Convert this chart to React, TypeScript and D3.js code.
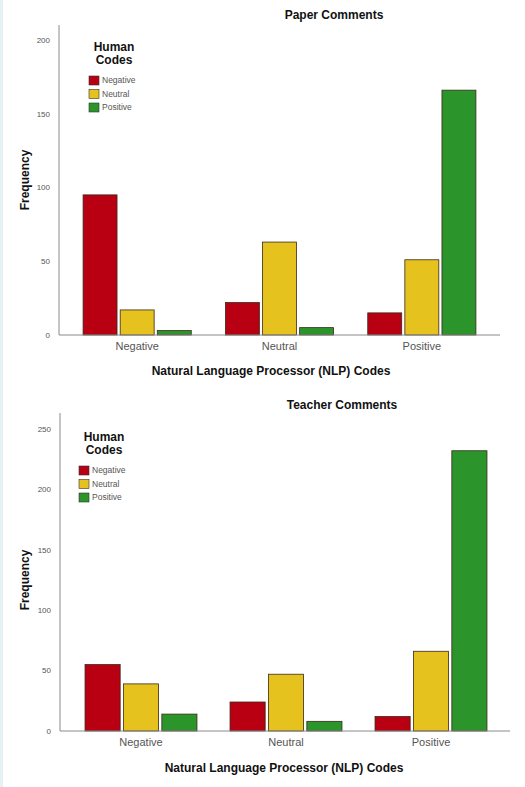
import React from "react";
import * as d3 from "d3";

const nlpCategories = ["Negative", "Neutral", "Positive"];
const humanCodes = ["Negative", "Neutral", "Positive"];
const codeColors = ["#B80012", "#E6C21E", "#2B952B"];

// values per NLP category, one array per human code
const paperNegative = [95, 22, 15];
const paperNeutral = [17, 63, 51];
const paperPositive = [3, 5, 166];
const paperTicks = [0, 50, 100, 150, 200];

const teacherNegative = [55, 24, 12];
const teacherNeutral = [39, 47, 66];
const teacherPositive = [14, 8, 232];
const teacherTicks = [0, 50, 100, 150, 200, 250];

const FONT = "'Liberation Sans', Arial, sans-serif";

type ChartProps = {
  title: string;
  series: number[][];
  ticks: number[];
  axisX: number;
  axisTop: number;
  baseY: number;
  topY: number;
  bandRange: [number, number];
  bandPad: number;
  baseEnd: number;
  titleX: number;
  titleY: number;
  legendX: number;
  legendY: number;
  xLabelX: number;
  xLabelY: number;
  yLabelY: number;
};

function Chart(p: ChartProps) {
  const yMax = p.ticks[p.ticks.length - 1];
  const y = d3.scaleLinear().domain([0, yMax]).range([p.baseY, p.topY]);
  const x0 = d3.scaleBand().domain(nlpCategories).range(p.bandRange).paddingInner(p.bandPad).paddingOuter(p.bandPad / 2);
  const x1 = d3.scaleBand().domain(humanCodes).range([0, x0.bandwidth()]).paddingInner(0.085);
  return (
    <g>
      <text x={p.titleX} y={p.titleY} textAnchor="middle" fontFamily={FONT} fontWeight="bold" fontSize={12} fill="#111">
        {p.title}
      </text>
      {/* y axis */}
      <line x1={p.axisX} x2={p.axisX} y1={p.axisTop} y2={p.baseY} stroke="#8a8a8a" strokeWidth={1} />
      {p.ticks.map((t) => (
        <text key={t} x={p.axisX - 9} y={y(t)} dy="0.35em" textAnchor="end" fontFamily={FONT} fontSize={8} fill="#555">
          {t}
        </text>
      ))}
      {/* bars */}
      {nlpCategories.map((c, ci) => (
        <g key={c} transform={`translate(${x0(c)},0)`}>
          {humanCodes.map((h, hi) => {
            const v = p.series[hi][ci];
            return (
              <rect
                key={h}
                x={x1(h)}
                y={y(v)}
                width={x1.bandwidth()}
                height={p.baseY - y(v)}
                fill={codeColors[hi]}
                stroke="#3a2a1a"
                strokeWidth={0.8}
              />
            );
          })}
        </g>
      ))}
      {/* x axis */}
      <line x1={p.axisX} x2={p.baseEnd} y1={p.baseY} y2={p.baseY} stroke="#8a8a8a" strokeWidth={1} />
      {nlpCategories.map((c) => (
        <text key={c} x={(x0(c) as number) + x0.bandwidth() / 2} y={p.baseY + 15} textAnchor="middle" fontFamily={FONT} fontSize={11} fill="#555">
          {c}
        </text>
      ))}
      <text x={p.xLabelX} y={p.xLabelY} textAnchor="middle" fontFamily={FONT} fontWeight="bold" fontSize={12} fill="#111">
        Natural Language Processor (NLP) Codes
      </text>
      <text transform={`translate(29,${p.yLabelY}) rotate(-90)`} textAnchor="middle" fontFamily={FONT} fontWeight="bold" fontSize={12} fill="#111">
        Frequency
      </text>
      {/* legend */}
      <g transform={`translate(${p.legendX},${p.legendY})`}>
        <text x={25} y={0} textAnchor="middle" fontFamily={FONT} fontWeight="bold" fontSize={12} fill="#111">Human</text>
        <text x={25} y={13} textAnchor="middle" fontFamily={FONT} fontWeight="bold" fontSize={12} fill="#111">Codes</text>
        {humanCodes.map((h, i) => (
          <g key={h} transform={`translate(0,${25 + i * 13.5})`}>
            <rect x={0} y={0} width={10} height={9} fill={codeColors[i]} stroke="#333" strokeWidth={0.6} />
            <text x={13} y={4.5} dy="0.35em" fontFamily={FONT} fontSize={8.5} fill="#555">{h}</text>
          </g>
        ))}
      </g>
    </g>
  );
}

export default function App() {
  return (
    <svg width={525} height={787} style={{ position: "absolute", left: 0, top: 0, background: "#fff" }}>
      <rect x={0} y={0} width={525} height={787} fill="#fff" />
      <rect x={0} y={0} width={3} height={787} fill="#e4f2f5" />
      <Chart
        title="Paper Comments"
        series={[paperNegative, paperNeutral, paperPositive]}
        ticks={paperTicks}
        axisX={59}
        axisTop={25}
        baseY={335}
        topY={40}
        bandRange={[66, 493]}
        bandPad={0.24}
        baseEnd={500}
        titleX={334}
        titleY={19}
        legendX={89}
        legendY={51}
        xLabelX={271}
        xLabelY={375}
        yLabelY={180}
      />
      <Chart
        title="Teacher Comments"
        series={[teacherNegative, teacherNeutral, teacherPositive]}
        ticks={teacherTicks}
        axisX={60}
        axisTop={413}
        baseY={731}
        topY={429}
        bandRange={[68.5, 503.5]}
        bandPad={0.228}
        baseEnd={510}
        titleX={342}
        titleY={409}
        legendX={79}
        legendY={441}
        xLabelX={284}
        xLabelY={772}
        yLabelY={580}
      />
    </svg>
  );
}
